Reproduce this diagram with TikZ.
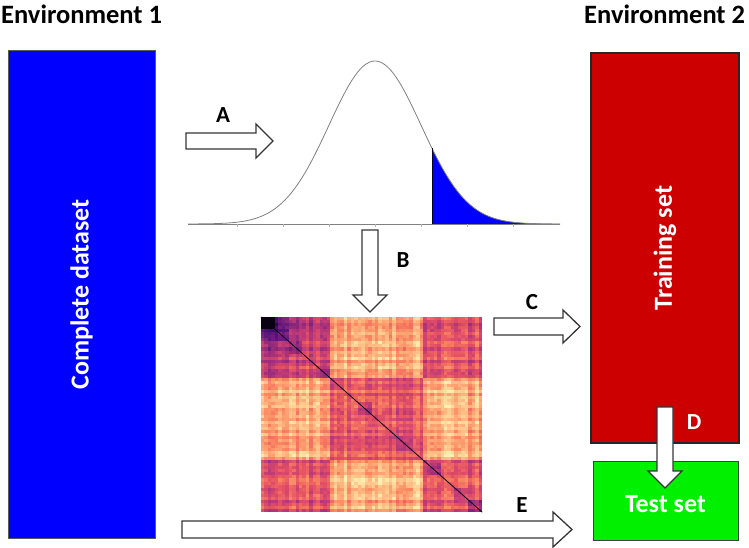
\documentclass[tikz,border=0pt]{standalone}
\usepackage{fontspec}
\setmainfont{Carlito}
\usetikzlibrary{calc}
\definecolor{boxblue}{HTML}{0000FF}
\definecolor{boxred}{HTML}{CC0000}
\definecolor{boxgreen}{HTML}{00F000}
\definecolor{arrline}{HTML}{363636}
\definecolor{curvegray}{HTML}{808080}
\definecolor{mK}{HTML}{000004}
\definecolor{mA}{HTML}{4F127B}
\definecolor{mB}{HTML}{B5367A}
\definecolor{mC}{HTML}{E55064}
\definecolor{mD}{HTML}{FB8761}
\definecolor{mE}{HTML}{FEC287}
\definecolor{mF}{HTML}{FCFDBF}
\newcommand\hmsetcolor[1]{%
  \pgfmathsetmacro\hmv{#1}%
  \ifdim\hmv pt<0.25pt
    \pgfmathsetmacro\hmp{\hmv/0.25*100}\colorlet{hmc}{mA!\hmp!mK}%
  \else\ifdim\hmv pt<0.5pt
    \pgfmathsetmacro\hmp{(\hmv-0.25)/0.25*100}\colorlet{hmc}{mB!\hmp!mA}%
  \else\ifdim\hmv pt<0.625pt
    \pgfmathsetmacro\hmp{(\hmv-0.5)/0.125*100}\colorlet{hmc}{mC!\hmp!mB}%
  \else\ifdim\hmv pt<0.75pt
    \pgfmathsetmacro\hmp{(\hmv-0.625)/0.125*100}\colorlet{hmc}{mD!\hmp!mC}%
  \else\ifdim\hmv pt<0.875pt
    \pgfmathsetmacro\hmp{(\hmv-0.75)/0.125*100}\colorlet{hmc}{mE!\hmp!mD}%
  \else
    \pgfmathsetmacro\hmp{(\hmv-0.875)/0.125*100}\colorlet{hmc}{mF!\hmp!mE}%
  \fi\fi\fi\fi\fi
}
\tikzset{
  envlabel/.style={font=\fontsize{26.5}{30}\selectfont\bfseries, inner sep=0pt, anchor=base west},
  boxtext/.style={font=\fontsize{26}{30}\selectfont\bfseries, text=white, inner sep=0pt},
  steplabel/.style={font=\fontsize{23}{27}\selectfont\bfseries, inner sep=0pt},
  barrowstyle/.style={draw=arrline, fill=white, line width=1.3pt},
  pics/barrow/.style n args={4}{code={
    \draw[barrowstyle] (0,-#2) -- ({#1-#4},-#2) -- ({#1-#4},-#3) -- (#1,0)
      -- ({#1-#4},#3) -- ({#1-#4},#2) -- (0,#2) -- cycle;
  }},
}
\begin{document}
\begin{tikzpicture}[x=1pt,y=-1pt]
\useasboundingbox[fill=white] (0,0) rectangle (749,548);

% titles
\node[envlabel] (env1) at (1,24) {Environment 1};
\node[envlabel] (env2) at (584,24) {Environment 2};

% boxes
\node[draw=black!65, line width=1pt, fill=boxblue, minimum width=147pt, minimum height=487pt, inner sep=0pt] (full) at (81.5,294.5) {};
\node[boxtext, rotate=90] (fulltext) at (full.center) {Complete dataset};
\node[draw=black!85, line width=1.4pt, fill=boxred, minimum width=148pt, minimum height=390pt, inner sep=0pt] (train) at (665,248) {};
\node[boxtext, rotate=90] (traintext) at (train.center) {Training set};
\node[draw=black!75, line width=1pt, fill=boxgreen, minimum width=145pt, minimum height=79pt, inner sep=0pt] (test) at (665.5,500.5) {};
\node[boxtext] (testtext) at ($(test.center)+(0,4)$) {Test set};

% gaussian
\fill[boxblue] (432,224) -- plot[domain=432:560, samples=60] (\x,{224-163*exp(-((\x-375)/46)^2/2)}) -- (560,224) -- cycle;
\draw[curvegray, line width=0.8pt] (188,224) -- (560,224);
\foreach \t in {237,283,329,375,421,467,513}{
  \draw[black!30, line width=0.5pt] (\t,224) -- (\t,226.5);
}
\draw[curvegray, line width=0.8pt] plot[domain=188:560, samples=120, smooth] (\x,{224-163*exp(-((\x-375)/46)^2/2)});
\draw[black!80!blue, line width=1pt] (432,224) -- (432,148.5);

% heatmap
\node[minimum width=221pt, minimum height=195pt, inner sep=0pt] (heat) at (371.5,414.5) {};
\pgfmathsetseed{11}
\foreach \i in {1,...,65}{
  \pgfmathsetmacro\tmp{0.15*rnd-0.075}
  \expandafter\xdef\csname hmr\i\endcsname{\tmp}
  \pgfmathsetmacro\tmp{0.16*rnd}
  \expandafter\xdef\csname hmk\i\endcsname{\tmp}
}
\expandafter\def\csname hmb11\endcsname{0.61}
\expandafter\def\csname hmb22\endcsname{0.655}
\expandafter\def\csname hmb33\endcsname{0.64}
\expandafter\def\csname hmb12\endcsname{0.835}
\expandafter\def\csname hmb21\endcsname{0.835}
\expandafter\def\csname hmb13\endcsname{0.635}
\expandafter\def\csname hmb31\endcsname{0.635}
\expandafter\def\csname hmb23\endcsname{0.845}
\expandafter\def\csname hmb32\endcsname{0.845}
\begin{scope}
\clip (heat.north west) rectangle (heat.south east);
\foreach \i in {1,...,64}{
  \foreach \j in {1,...,64}{
    \pgfmathtruncatemacro\bi{(\i>20)+(\i>47)+1}
    \pgfmathtruncatemacro\bj{(\j>20)+(\j>47)+1}
    \pgfmathtruncatemacro\same{(floor((\i-1)/4)==floor((\j-1)/4))*(\bi==\bj)}
    \edef\bb{\csname hmb\bi\bj\endcsname}
    \edef\ri{\csname hmr\i\endcsname}
    \edef\rj{\csname hmr\j\endcsname}
    \pgfmathtruncatemacro\kk{4*floor((\i-1)/4)+1}
    \edef\kv{\csname hmk\kk\endcsname}
    \pgfmathsetmacro\v{\bb+(\ri)+(\rj)+0.09*rnd-0.045-\same*(\kv)-0.36*exp(-((\i-1)^2+(\j-1)^2)/24)-0.2*exp(-((\i-1)^2+(\j-1)^2)/200)*(\bi==\bj)}
    \pgfmathsetmacro\v{max(0.03,min(0.97,\v))}
    \hmsetcolor{\v}
    \fill[hmc] ({261+(\j-1)*3.453},{317+(\i-1)*3.047}) rectangle ++(3.7,3.3);
  }
}
\end{scope}
\draw[mK!85!mA, line width=0.8pt] (heat.north west) -- (heat.south east);

% block arrows
\coordinate (Aa) at (186,141);
\pic at (Aa) {barrow={87}{8}{17}{17}};
\node[steplabel] (labA) at (223,115) {A};

\coordinate (Ba) at (370,230);
\pic[rotate=-90] at (Ba) {barrow={82}{8}{17}{17}};
\node[steplabel] (labB) at (403,260) {B};

\coordinate (Ca) at (494,326.5);
\pic at (Ca) {barrow={86}{8.5}{16.5}{17}};
\node[steplabel] (labC) at (532,302) {C};

\coordinate (Da) at (665,407);
\pic[rotate=-90] at (Da) {barrow={81}{8}{17}{17}};
\node[steplabel, text=white] (labD) at (694,422) {D};

\coordinate (Ea) at (182,529.5);
\pic at (Ea) {barrow={390}{8.5}{17.5}{19}};
\node[steplabel] (labE) at (522,505) {E};
\end{tikzpicture}
\end{document}
